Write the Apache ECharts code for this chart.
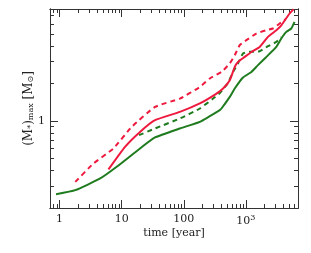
<!DOCTYPE html>
<html>
<head>
<meta charset="utf-8">
<script src="https://cdn.jsdelivr.net/npm/echarts@6/dist/echarts.min.js"></script>
<style>
html,body{margin:0;padding:0;background:#fff;}
#c{width:311px;height:253px;}
</style>
</head>
<body>
<div id="c"></div>
<script>
// ---- data (time in years, mass in solar masses) ----
const greenSolidT = [0.875, 1.79, 4.5, 8.3, 19.7, 34.4, 86.5, 181, 380, 404, 550, 661, 898, 1225, 1564, 2133, 3090, 3715, 4470, 5375, 6070];
const greenSolidM = [0.258, 0.278, 0.345, 0.428, 0.601, 0.736, 0.869, 0.982, 1.22, 1.257, 1.557, 1.82, 2.23, 2.47, 2.80, 3.26, 3.92, 4.58, 5.18, 5.51, 6.22];

const redSolidT = [6.12, 11.3, 19.7, 34.4, 86.5, 181, 327, 429, 550, 661, 747, 957, 1225, 1667, 2263, 3090, 3715, 5050, 5850];
const redSolidM = [0.408, 0.619, 0.816, 1.013, 1.18, 1.38, 1.64, 1.82, 2.12, 2.71, 2.97, 3.26, 3.57, 3.92, 4.72, 5.34, 5.85, 7.27, 7.87];

const redDashT = [1.79, 3.51, 7.36, 14.5, 34.4, 86.5, 181, 262, 404, 550, 661, 795, 1018, 1473, 2133, 2723, 3490, 4355];
const redDashM = [0.324, 0.455, 0.601, 0.895, 1.295, 1.51, 1.87, 2.19, 2.47, 2.89, 3.36, 4.05, 4.44, 5.02, 5.34, 5.51, 6.04, 6.54];

const greenDashT = [19.0, 34.4, 86.5, 181, 296, 380, 510, 621, 747, 898, 1150, 1667, 2263, 3090, 3755];
const greenDashM = [0.768, 0.869, 1.045, 1.257, 1.51, 1.67, 2.0, 2.47, 2.89, 3.47, 3.58, 3.62, 3.97, 4.30, 4.69];

// ---- tick labels ----
const xMajorTicks = [1, 10, 100, 1000];
const xMinorTicks = [0.7, 0.8, 0.9, 2, 3, 4, 5, 6, 7, 8, 9, 20, 30, 40, 50, 60, 70, 80, 90, 200, 300, 400, 500, 600, 700, 800, 900, 2000, 3000, 4000, 5000, 6000];
const xTickLabels = ['1', '10', '100', '10{sup|3}'];
const yMajorTicks = [1];
const yMinorTicks = [0.3, 0.4, 0.5, 0.6, 0.7, 0.8, 0.9, 2, 3, 4, 5, 6, 7];
const yTickLabels = ['1'];

const RED = '#ee1a3e', GREEN = '#1e7b1e';
const FONT = 'DejaVu Serif';
const X_MIN = 0.7, X_MAX = 6900, Y_MIN = 0.2, Y_MAX = 7.9;

function zip(a, b) { return a.map((v, i) => [v, b[i]]); }

function xAxisDef(pos, major, showLabel) {
  return {
    type: 'log', logBase: 10, min: X_MIN, max: X_MAX, position: pos, gridIndex: 0,
    axisLine: { show: true, onZero: false, lineStyle: { color: '#333', width: 1 } },
    splitLine: { show: false },
    axisTick: { show: true, inside: true, length: major ? 8 : 4, lineStyle: { color: '#333', width: 1 },
      customValues: major ? xMajorTicks : xMinorTicks },
    axisLabel: showLabel ? {
      show: true, customValues: xMajorTicks, margin: 6, fontFamily: FONT, fontSize: 11, color: '#222',
      formatter: function (v) { const i = xMajorTicks.indexOf(Math.round(v)); return i >= 0 ? xTickLabels[i] : ''; },
      rich: { sup: { fontFamily: FONT, fontSize: 8, verticalAlign: 'top', padding: [0, 0, 6, 0], color: '#222' } }
    } : { show: false },
    name: showLabel ? 'time [year]' : '', nameLocation: 'middle', nameGap: 20, nameMoveOverlap: false,
    nameTextStyle: { fontFamily: FONT, fontSize: 11, color: '#222' }
  };
}
function yAxisDef(pos, major, showLabel) {
  return {
    type: 'log', logBase: 10, min: Y_MIN, max: Y_MAX, position: pos, gridIndex: 0,
    axisLine: { show: true, onZero: false, lineStyle: { color: '#333', width: 1 } },
    splitLine: { show: false },
    axisTick: { show: true, inside: true, length: major ? 8 : 4, lineStyle: { color: '#333', width: 1 },
      customValues: major ? yMajorTicks : yMinorTicks },
    axisLabel: showLabel ? {
      show: true, customValues: yMajorTicks, margin: 5, fontFamily: FONT, fontSize: 11, color: '#222',
      formatter: function (v) { const i = yMajorTicks.indexOf(Math.round(v)); return i >= 0 ? yTickLabels[i] : ''; }
    } : { show: false },
    name: showLabel ? '(M{sub|*}){sub|max} [M{sub|⊙}]' : '', nameLocation: 'middle', nameGap: 15, nameRotate: 90,
    nameMoveOverlap: false,
    nameTextStyle: { fontFamily: FONT, fontSize: 12, color: '#222',
      rich: { sub: { fontFamily: FONT, fontSize: 8, verticalAlign: 'bottom', padding: [5, 0, 0, 0], color: '#222' } } }
  };
}

const chart = echarts.init(document.getElementById('c'), null, { renderer: 'canvas' });
chart.setOption({
  animation: false,
  backgroundColor: '#fff',
  grid: { left: 50, top: 9, right: 13, bottom: 45, containLabel: false },
  xAxis: [xAxisDef('bottom', true, true), xAxisDef('bottom', false, false), xAxisDef('top', true, false), xAxisDef('top', false, false)],
  yAxis: [yAxisDef('left', true, true), yAxisDef('left', false, false), yAxisDef('right', true, false), yAxisDef('right', false, false)],
  series: [
    { type: 'line', data: zip(greenSolidT, greenSolidM), showSymbol: false, smooth: 0.15, clip: true,
      lineStyle: { color: GREEN, width: 2 } },
    { type: 'line', data: zip(greenDashT, greenDashM), showSymbol: false, smooth: 0.15, clip: true,
      lineStyle: { color: GREEN, width: 2, type: [5, 4] } },
    { type: 'line', data: zip(redDashT, redDashM), showSymbol: false, smooth: 0.15, clip: true,
      lineStyle: { color: RED, width: 2, type: [5, 4] } },
    { type: 'line', data: zip(redSolidT, redSolidM), showSymbol: false, smooth: 0.15, clip: true,
      lineStyle: { color: RED, width: 2 } }
  ]
});
</script>
</body>
</html>
